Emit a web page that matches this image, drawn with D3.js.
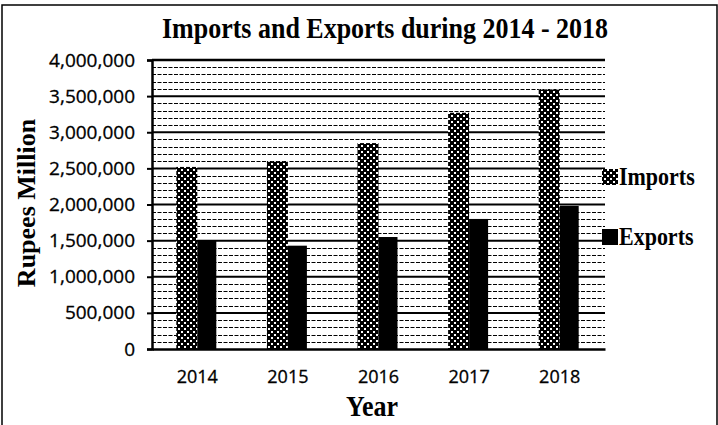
<!DOCTYPE html>
<html>
<head>
<meta charset="utf-8">
<script src="https://cdn.jsdelivr.net/npm/d3@7"></script>
<style>
  body { margin: 0; background: #fff; }
  .tick-font { font-family: "Open Sans", "Liberation Sans", sans-serif; font-size: 19px; fill: #000; stroke: #000; stroke-width: 0.3px; }
  .serif-bold { font-family: "Liberation Serif", "DejaVu Serif", serif; font-weight: bold; fill: #000; }
</style>
</head>
<body>
<script>
// data
const years = ["2014", "2015", "2016", "2017", "2018"];
const imports = [2520000, 2600000, 2850000, 3270000, 3590000];
const exports = [1500000, 1430000, 1550000, 1800000, 1980000];
const yTicks = [0, 500000, 1000000, 1500000, 2000000, 2500000, 3000000, 3500000, 4000000];

const w = 718, h = 425;
const pLeft = 152, pRight = 605, pTop = 60, pBottom = 349; // plot area

const svg = d3.select("body").append("svg")
  .attr("width", w)
  .attr("height", h);

// dotted pattern for imports
const defs = svg.append("defs");
const pat = defs.append("pattern")
  .attr("id", "dots")
  .attr("patternUnits", "userSpaceOnUse")
  .attr("width", 6).attr("height", 6);
pat.append("rect").attr("width", 6).attr("height", 6).attr("fill", "#000");
pat.append("rect").attr("x", 1).attr("y", 1).attr("width", 2).attr("height", 2).attr("fill", "#fff");
pat.append("rect").attr("x", 4).attr("y", 4).attr("width", 2).attr("height", 2).attr("fill", "#fff");

// frame
svg.append("path")
  .attr("d", `M2,${h} L2,5 L717,5 L717,${h}`)
  .attr("fill", "none").attr("stroke", "#000").attr("stroke-width", 1.5);

const x = d3.scaleBand().domain(years).range([pLeft, pRight]);
const y = d3.scaleLinear().domain([0, 4000000]).range([pBottom, pTop]);

// minor dashed grid every 100k
const minor = d3.range(100000, 4000000, 100000).filter(v => v % 500000 !== 0);
svg.append("g").selectAll("line")
  .data(minor)
  .enter().append("line")
  .attr("x1", pLeft).attr("x2", pRight)
  .attr("y1", d => Math.round(y(d)) + 0.5).attr("y2", d => Math.round(y(d)) + 0.5)
  .attr("stroke", "#000").attr("stroke-width", 1.2)
  .attr("stroke-dasharray", "4,1.5");

// major grid
svg.append("g").selectAll("line")
  .data(yTicks.slice(1))
  .enter().append("line")
  .attr("x1", pLeft).attr("x2", pRight)
  .attr("y1", d => y(d)).attr("y2", d => y(d))
  .attr("stroke", "#000").attr("stroke-width", d => d === 4000000 ? 2.5 : 2);

// bars
const bw = 21;
svg.append("g").selectAll("rect")
  .data(years)
  .enter().append("rect")
  .attr("x", d => x(d) + x.bandwidth() / 2 - bw)
  .attr("y", (d, i) => y(imports[i]))
  .attr("width", bw)
  .attr("height", (d, i) => pBottom - y(imports[i]))
  .attr("fill", "url(#dots)");

svg.append("g").selectAll("rect")
  .data(years)
  .enter().append("rect")
  .attr("x", d => x(d) + x.bandwidth() / 2)
  .attr("y", (d, i) => y(exports[i]))
  .attr("width", bw - 2)
  .attr("height", (d, i) => pBottom - y(exports[i]))
  .attr("fill", "#000");

// y axis
const yAxis = d3.axisLeft(y).tickValues(yTicks).tickSize(5).tickPadding(12)
  .tickFormat(d3.format(","));
const gy = svg.append("g").attr("transform", `translate(${pLeft},0)`).call(yAxis);
gy.select(".domain").attr("stroke", "#000").attr("stroke-width", 2.5);
gy.selectAll(".tick line").attr("stroke-width", 2);
gy.selectAll("text").attr("class", "tick-font");
gy.attr("font-family", null).attr("font-size", null);

// x axis
const xAxis = d3.axisBottom(x).tickSize(0).tickPadding(21);
const gx = svg.append("g").attr("transform", `translate(0,${pBottom})`).call(xAxis);
gx.select(".domain").attr("stroke", "#000").attr("stroke-width", 2.5);
gx.selectAll("text").attr("class", "tick-font").style("font-size", "18px");
gx.attr("font-family", null).attr("font-size", null);

// title and axis labels (scan is a bit stretched vertically)
svg.append("text")
  .attr("transform", "translate(385,38) scale(1,1.15)")
  .attr("text-anchor", "middle")
  .attr("class", "serif-bold")
  .style("font-size", "26px")
  .text("Imports and Exports during 2014 - 2018");

svg.append("text")
  .attr("transform", "translate(372,416) scale(1,1.1)")
  .attr("text-anchor", "middle")
  .attr("class", "serif-bold")
  .style("font-size", "26px")
  .text("Year");

svg.append("text")
  .attr("transform", "translate(35,203) rotate(-90)")
  .attr("text-anchor", "middle")
  .attr("class", "serif-bold")
  .style("font-size", "26px")
  .text("Rupees Million");

// legend
const legend = [["Imports", "url(#dots)", 185], ["Exports", "#000", 245]];
legend.forEach(l => {
  svg.append("rect")
    .attr("x", 602).attr("y", l[2] - 16)
    .attr("width", 16).attr("height", 16)
    .attr("fill", l[1]);
  svg.append("text")
    .attr("transform", `translate(619,${l[2]}) scale(1,1.1)`)
    .attr("class", "serif-bold")
    .style("font-size", "22px")
    .text(l[0]);
});
</script>
</body>
</html>
